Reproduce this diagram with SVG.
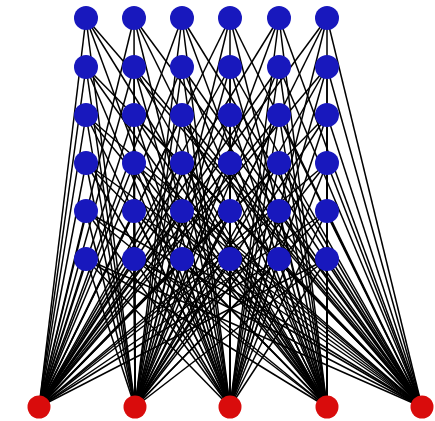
<svg xmlns="http://www.w3.org/2000/svg" width="435" height="421" viewBox="0 0 435 421">
<style>
.e line{stroke:#000;stroke-width:1.5}
.b{fill:#1818bd}
.r{fill:#d90c0c}
</style>
<rect width="435" height="421" fill="#fff"/>
<g id="connectors" class="e">
<g id="from-r1">
<line x1="39" y1="407" x2="86" y2="18"/><line x1="39" y1="407" x2="86" y2="67"/><line x1="39" y1="407" x2="86" y2="115"/><line x1="39" y1="407" x2="86" y2="163"/><line x1="39" y1="407" x2="86" y2="211"/><line x1="39" y1="407" x2="86" y2="259"/>
<line x1="39" y1="407" x2="134" y2="18"/><line x1="39" y1="407" x2="134" y2="67"/><line x1="39" y1="407" x2="134" y2="115"/><line x1="39" y1="407" x2="134" y2="163"/><line x1="39" y1="407" x2="134" y2="211"/><line x1="39" y1="407" x2="134" y2="259"/>
<line x1="39" y1="407" x2="182" y2="18"/><line x1="39" y1="407" x2="182" y2="67"/><line x1="39" y1="407" x2="182" y2="115"/><line x1="39" y1="407" x2="182" y2="163"/><line x1="39" y1="407" x2="182" y2="211"/><line x1="39" y1="407" x2="182" y2="259"/>
<line x1="39" y1="407" x2="230" y2="18"/><line x1="39" y1="407" x2="230" y2="67"/><line x1="39" y1="407" x2="230" y2="115"/><line x1="39" y1="407" x2="230" y2="163"/><line x1="39" y1="407" x2="230" y2="211"/><line x1="39" y1="407" x2="230" y2="259"/>
<line x1="39" y1="407" x2="279" y2="18"/><line x1="39" y1="407" x2="279" y2="67"/><line x1="39" y1="407" x2="279" y2="115"/><line x1="39" y1="407" x2="279" y2="163"/><line x1="39" y1="407" x2="279" y2="211"/><line x1="39" y1="407" x2="279" y2="259"/>
<line x1="39" y1="407" x2="327" y2="18"/><line x1="39" y1="407" x2="327" y2="67"/><line x1="39" y1="407" x2="327" y2="115"/><line x1="39" y1="407" x2="327" y2="163"/><line x1="39" y1="407" x2="327" y2="211"/><line x1="39" y1="407" x2="327" y2="259"/>
</g>
<g id="from-r2">
<line x1="135" y1="407" x2="86" y2="18"/><line x1="135" y1="407" x2="86" y2="67"/><line x1="135" y1="407" x2="86" y2="115"/><line x1="135" y1="407" x2="86" y2="163"/><line x1="135" y1="407" x2="86" y2="211"/><line x1="135" y1="407" x2="86" y2="259"/>
<line x1="135" y1="407" x2="134" y2="18"/><line x1="135" y1="407" x2="134" y2="67"/><line x1="135" y1="407" x2="134" y2="115"/><line x1="135" y1="407" x2="134" y2="163"/><line x1="135" y1="407" x2="134" y2="211"/><line x1="135" y1="407" x2="134" y2="259"/>
<line x1="135" y1="407" x2="182" y2="18"/><line x1="135" y1="407" x2="182" y2="67"/><line x1="135" y1="407" x2="182" y2="115"/><line x1="135" y1="407" x2="182" y2="163"/><line x1="135" y1="407" x2="182" y2="211"/><line x1="135" y1="407" x2="182" y2="259"/>
<line x1="135" y1="407" x2="230" y2="18"/><line x1="135" y1="407" x2="230" y2="67"/><line x1="135" y1="407" x2="230" y2="115"/><line x1="135" y1="407" x2="230" y2="163"/><line x1="135" y1="407" x2="230" y2="211"/><line x1="135" y1="407" x2="230" y2="259"/>
<line x1="135" y1="407" x2="279" y2="18"/><line x1="135" y1="407" x2="279" y2="67"/><line x1="135" y1="407" x2="279" y2="115"/><line x1="135" y1="407" x2="279" y2="163"/><line x1="135" y1="407" x2="279" y2="211"/><line x1="135" y1="407" x2="279" y2="259"/>
<line x1="135" y1="407" x2="327" y2="18"/><line x1="135" y1="407" x2="327" y2="67"/><line x1="135" y1="407" x2="327" y2="115"/><line x1="135" y1="407" x2="327" y2="163"/><line x1="135" y1="407" x2="327" y2="211"/><line x1="135" y1="407" x2="327" y2="259"/>
</g>
<g id="from-r3">
<line x1="230" y1="407" x2="86" y2="18"/><line x1="230" y1="407" x2="86" y2="67"/><line x1="230" y1="407" x2="86" y2="115"/><line x1="230" y1="407" x2="86" y2="163"/><line x1="230" y1="407" x2="86" y2="211"/><line x1="230" y1="407" x2="86" y2="259"/>
<line x1="230" y1="407" x2="134" y2="18"/><line x1="230" y1="407" x2="134" y2="67"/><line x1="230" y1="407" x2="134" y2="115"/><line x1="230" y1="407" x2="134" y2="163"/><line x1="230" y1="407" x2="134" y2="211"/><line x1="230" y1="407" x2="134" y2="259"/>
<line x1="230" y1="407" x2="182" y2="18"/><line x1="230" y1="407" x2="182" y2="67"/><line x1="230" y1="407" x2="182" y2="115"/><line x1="230" y1="407" x2="182" y2="163"/><line x1="230" y1="407" x2="182" y2="211"/><line x1="230" y1="407" x2="182" y2="259"/>
<line x1="230" y1="407" x2="230" y2="18"/><line x1="230" y1="407" x2="230" y2="67"/><line x1="230" y1="407" x2="230" y2="115"/><line x1="230" y1="407" x2="230" y2="163"/><line x1="230" y1="407" x2="230" y2="211"/><line x1="230" y1="407" x2="230" y2="259"/>
<line x1="230" y1="407" x2="279" y2="18"/><line x1="230" y1="407" x2="279" y2="67"/><line x1="230" y1="407" x2="279" y2="115"/><line x1="230" y1="407" x2="279" y2="163"/><line x1="230" y1="407" x2="279" y2="211"/><line x1="230" y1="407" x2="279" y2="259"/>
<line x1="230" y1="407" x2="327" y2="18"/><line x1="230" y1="407" x2="327" y2="67"/><line x1="230" y1="407" x2="327" y2="115"/><line x1="230" y1="407" x2="327" y2="163"/><line x1="230" y1="407" x2="327" y2="211"/><line x1="230" y1="407" x2="327" y2="259"/>
</g>
<g id="from-r4">
<line x1="327" y1="407" x2="86" y2="18"/><line x1="327" y1="407" x2="86" y2="67"/><line x1="327" y1="407" x2="86" y2="115"/><line x1="327" y1="407" x2="86" y2="163"/><line x1="327" y1="407" x2="86" y2="211"/><line x1="327" y1="407" x2="86" y2="259"/>
<line x1="327" y1="407" x2="134" y2="18"/><line x1="327" y1="407" x2="134" y2="67"/><line x1="327" y1="407" x2="134" y2="115"/><line x1="327" y1="407" x2="134" y2="163"/><line x1="327" y1="407" x2="134" y2="211"/><line x1="327" y1="407" x2="134" y2="259"/>
<line x1="327" y1="407" x2="182" y2="18"/><line x1="327" y1="407" x2="182" y2="67"/><line x1="327" y1="407" x2="182" y2="115"/><line x1="327" y1="407" x2="182" y2="163"/><line x1="327" y1="407" x2="182" y2="211"/><line x1="327" y1="407" x2="182" y2="259"/>
<line x1="327" y1="407" x2="230" y2="18"/><line x1="327" y1="407" x2="230" y2="67"/><line x1="327" y1="407" x2="230" y2="115"/><line x1="327" y1="407" x2="230" y2="163"/><line x1="327" y1="407" x2="230" y2="211"/><line x1="327" y1="407" x2="230" y2="259"/>
<line x1="327" y1="407" x2="279" y2="18"/><line x1="327" y1="407" x2="279" y2="67"/><line x1="327" y1="407" x2="279" y2="115"/><line x1="327" y1="407" x2="279" y2="163"/><line x1="327" y1="407" x2="279" y2="211"/><line x1="327" y1="407" x2="279" y2="259"/>
<line x1="327" y1="407" x2="327" y2="18"/><line x1="327" y1="407" x2="327" y2="67"/><line x1="327" y1="407" x2="327" y2="115"/><line x1="327" y1="407" x2="327" y2="163"/><line x1="327" y1="407" x2="327" y2="211"/><line x1="327" y1="407" x2="327" y2="259"/>
</g>
<g id="from-r5">
<line x1="422" y1="407" x2="86" y2="18"/><line x1="422" y1="407" x2="86" y2="67"/><line x1="422" y1="407" x2="86" y2="115"/><line x1="422" y1="407" x2="86" y2="163"/><line x1="422" y1="407" x2="86" y2="211"/><line x1="422" y1="407" x2="86" y2="259"/>
<line x1="422" y1="407" x2="134" y2="18"/><line x1="422" y1="407" x2="134" y2="67"/><line x1="422" y1="407" x2="134" y2="115"/><line x1="422" y1="407" x2="134" y2="163"/><line x1="422" y1="407" x2="134" y2="211"/><line x1="422" y1="407" x2="134" y2="259"/>
<line x1="422" y1="407" x2="182" y2="18"/><line x1="422" y1="407" x2="182" y2="67"/><line x1="422" y1="407" x2="182" y2="115"/><line x1="422" y1="407" x2="182" y2="163"/><line x1="422" y1="407" x2="182" y2="211"/><line x1="422" y1="407" x2="182" y2="259"/>
<line x1="422" y1="407" x2="230" y2="18"/><line x1="422" y1="407" x2="230" y2="67"/><line x1="422" y1="407" x2="230" y2="115"/><line x1="422" y1="407" x2="230" y2="163"/><line x1="422" y1="407" x2="230" y2="211"/><line x1="422" y1="407" x2="230" y2="259"/>
<line x1="422" y1="407" x2="279" y2="18"/><line x1="422" y1="407" x2="279" y2="67"/><line x1="422" y1="407" x2="279" y2="115"/><line x1="422" y1="407" x2="279" y2="163"/><line x1="422" y1="407" x2="279" y2="211"/><line x1="422" y1="407" x2="279" y2="259"/>
<line x1="422" y1="407" x2="327" y2="18"/><line x1="422" y1="407" x2="327" y2="67"/><line x1="422" y1="407" x2="327" y2="115"/><line x1="422" y1="407" x2="327" y2="163"/><line x1="422" y1="407" x2="327" y2="211"/><line x1="422" y1="407" x2="327" y2="259"/>
</g>
</g>
<g id="blue-nodes">
<g id="b1-1"><circle class="b" cx="86" cy="18" r="12"/></g><g id="b1-2"><circle class="b" cx="134" cy="18" r="12"/></g><g id="b1-3"><circle class="b" cx="182" cy="18" r="12"/></g><g id="b1-4"><circle class="b" cx="230" cy="18" r="12"/></g><g id="b1-5"><circle class="b" cx="279" cy="18" r="12"/></g><g id="b1-6"><circle class="b" cx="327" cy="18" r="12"/></g>
<g id="b2-1"><circle class="b" cx="86" cy="67" r="12"/></g><g id="b2-2"><circle class="b" cx="134" cy="67" r="12"/></g><g id="b2-3"><circle class="b" cx="182" cy="67" r="12"/></g><g id="b2-4"><circle class="b" cx="230" cy="67" r="12"/></g><g id="b2-5"><circle class="b" cx="279" cy="67" r="12"/></g><g id="b2-6"><circle class="b" cx="327" cy="67" r="12"/></g>
<g id="b3-1"><circle class="b" cx="86" cy="115" r="12"/></g><g id="b3-2"><circle class="b" cx="134" cy="115" r="12"/></g><g id="b3-3"><circle class="b" cx="182" cy="115" r="12"/></g><g id="b3-4"><circle class="b" cx="230" cy="115" r="12"/></g><g id="b3-5"><circle class="b" cx="279" cy="115" r="12"/></g><g id="b3-6"><circle class="b" cx="327" cy="115" r="12"/></g>
<g id="b4-1"><circle class="b" cx="86" cy="163" r="12"/></g><g id="b4-2"><circle class="b" cx="134" cy="163" r="12"/></g><g id="b4-3"><circle class="b" cx="182" cy="163" r="12"/></g><g id="b4-4"><circle class="b" cx="230" cy="163" r="12"/></g><g id="b4-5"><circle class="b" cx="279" cy="163" r="12"/></g><g id="b4-6"><circle class="b" cx="327" cy="163" r="12"/></g>
<g id="b5-1"><circle class="b" cx="86" cy="211" r="12"/></g><g id="b5-2"><circle class="b" cx="134" cy="211" r="12"/></g><g id="b5-3"><circle class="b" cx="182" cy="211" r="12"/></g><g id="b5-4"><circle class="b" cx="230" cy="211" r="12"/></g><g id="b5-5"><circle class="b" cx="279" cy="211" r="12"/></g><g id="b5-6"><circle class="b" cx="327" cy="211" r="12"/></g>
<g id="b6-1"><circle class="b" cx="86" cy="259" r="12"/></g><g id="b6-2"><circle class="b" cx="134" cy="259" r="12"/></g><g id="b6-3"><circle class="b" cx="182" cy="259" r="12"/></g><g id="b6-4"><circle class="b" cx="230" cy="259" r="12"/></g><g id="b6-5"><circle class="b" cx="279" cy="259" r="12"/></g><g id="b6-6"><circle class="b" cx="327" cy="259" r="12"/></g>
</g>
<g id="red-nodes">
<g id="r1"><circle class="r" cx="39" cy="407" r="11.5"/></g>
<g id="r2"><circle class="r" cx="135" cy="407" r="11.5"/></g>
<g id="r3"><circle class="r" cx="230" cy="407" r="11.5"/></g>
<g id="r4"><circle class="r" cx="327" cy="407" r="11.5"/></g>
<g id="r5"><circle class="r" cx="422" cy="407" r="11.5"/></g>
</g>
</svg>
